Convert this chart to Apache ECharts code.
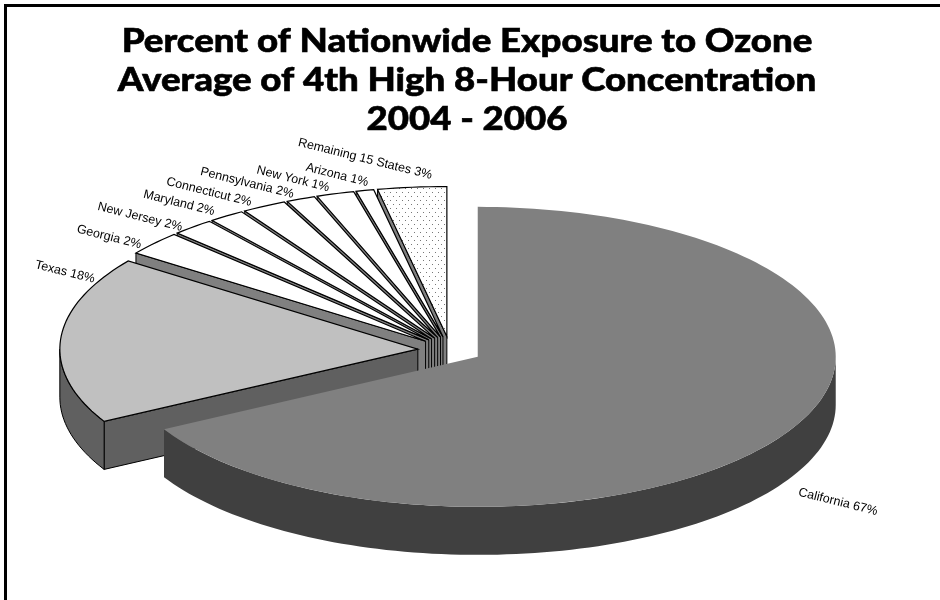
<!DOCTYPE html>
<html>
<head>
<meta charset="utf-8">
<style>
  html, body { margin: 0; padding: 0; background: #fff; }
  #chart { width: 940px; height: 600px; }
</style>
<script src="https://cdn.jsdelivr.net/npm/echarts@6/dist/echarts.min.js"></script>
</head>
<body>
<div id="chart"></div>
<script>
// data
var states = ['California', 'Texas', 'Georgia', 'New Jersey', 'Maryland', 'Connecticut', 'Pennsylvania', 'New York', 'Arizona', 'Remaining 15 States'];
var shares = [67, 18, 2.6, 1.9, 1.6, 2.0, 1.3, 1.7, 0.8, 3.1];
var printedShares = [67, 18, 2, 2, 2, 2, 2, 1, 1, 3];
var titleLines = ['Percent of Nationwide Exposure to Ozone', 'Average of 4th High 8-Hour Concentration', '2004 - 2006'];

// look of the slices
var topColors = ['#808080', '#c0c0c0', '#fff', '#fff', '#fff', '#fff', '#fff', '#fff', '#fff', 'dots'];
var wallColors = ['#404040', '#606060', '#808080', '#808080', '#808080', '#808080', '#808080', '#808080', '#808080', '#808080'];
var outlineColors = [null, '#000', '#000', '#000', '#000', '#000', '#000', '#000', '#000', '#000'];

// label anchors in pixels [x, y, rotation in degrees]
var labelSpots = [
  [838, 502, -14], [65, 272, -14], [109, 237, -14], [140, 217, -14], [179, 203, -14],
  [209, 192, -14], [247, 183, -14], [293, 179, -14], [337, 175, -14], [365, 159, -14]
];

var explode = 0.09;
var depth = 0.32; // pie thickness, in units of the y radius

// dot pattern for the last slice
var dots = document.createElement('canvas');
dots.width = 6;
dots.height = 8;
var dotsCtx = dots.getContext('2d');
dotsCtx.fillStyle = '#fff';
dotsCtx.fillRect(0, 0, 6, 8);
dotsCtx.fillStyle = '#777';
dotsCtx.fillRect(0, 0, 1, 1);
dotsCtx.fillRect(3, 4, 1, 1);

// running start angle of each slice, in degrees from 12 o'clock, clockwise
var total = shares.reduce(function (a, b) { return a + b; }, 0);
var starts = [];
var run = 0;
shares.forEach(function (v) {
  starts.push(run);
  run += v / total * 360;
});

function rim(cx, cy, deg) {
  var r = deg * Math.PI / 180;
  return [cx + Math.sin(r), cy + Math.cos(r)];
}

function arcPoints(cx, cy, from, to) {
  var pts = [];
  var n = Math.max(2, Math.ceil((to - from) / 1.5));
  for (var i = 0; i <= n; i++) {
    pts.push(rim(cx, cy, from + (to - from) * i / n));
  }
  return pts;
}

var chart = echarts.init(document.getElementById('chart'), null, { renderer: 'canvas' });

function renderSlice(params, api) {
  var i = params.dataIndex;
  var from = starts[i];
  var to = from + shares[i] / total * 360;
  var mid = (from + to) / 2 * Math.PI / 180;
  var cx = explode * Math.sin(mid);
  var cy = explode * Math.cos(mid);
  var toPx = function (p) { return api.coord(p); };
  var drop = function (p) { return api.coord([p[0], p[1] - depth]); };
  var stroke = outlineColors[i];
  var wallStyle = { fill: wallColors[i], stroke: stroke || wallColors[i], lineWidth: stroke ? 1 : 0 };
  var children = [];

  // radial wall on the start edge, seen when it turns toward the viewer
  if (from > 180) {
    var a = rim(cx, cy, from);
    children.push({
      type: 'polygon',
      shape: { points: [toPx([cx, cy]), toPx(a), drop(a), drop([cx, cy])] },
      style: wallStyle
    });
  }
  // radial wall on the end edge
  if (to < 180) {
    var b = rim(cx, cy, to);
    children.push({
      type: 'polygon',
      shape: { points: [toPx([cx, cy]), toPx(b), drop(b), drop([cx, cy])] },
      style: wallStyle
    });
  }
  // outer wall, front half only
  var wFrom = Math.max(from, 90);
  var wTo = Math.min(to, 270);
  if (wTo > wFrom) {
    var arc = arcPoints(cx, cy, wFrom, wTo);
    children.push({
      type: 'polygon',
      shape: { points: arc.map(toPx).concat(arc.slice().reverse().map(drop)) },
      style: wallStyle
    });
  }
  // top face
  var top = [[cx, cy]].concat(arcPoints(cx, cy, from, to));
  children.push({
    type: 'polygon',
    shape: { points: top.map(toPx) },
    style: {
      fill: topColors[i] === 'dots' ? { image: dots, repeat: 'repeat' } : topColors[i],
      stroke: stroke || topColors[i],
      lineWidth: stroke ? 1.2 : 0,
      lineJoin: 'miter'
    }
  });
  // printed label
  children.push({
    type: 'text',
    x: labelSpots[i][0],
    y: labelSpots[i][1],
    rotation: labelSpots[i][2] * Math.PI / 180,
    style: {
      text: states[i] + ' ' + printedShares[i] + '%',
      font: '12.5px "Liberation Sans", Arial, sans-serif',
      fill: '#000',
      align: 'center',
      verticalAlign: 'middle'
    }
  });
  return { type: 'group', children: children };
}

// painted back to front so nearer slices cover farther ones
var order = shares.map(function (v, i) { return i; }).reverse();

chart.setOption({
  animation: false,
  backgroundColor: '#fff',
  // unit circle of the pie mapped on to an ellipse of 358 x 150 px
  grid: { left: 92, top: 200, width: 716, height: 300, show: false },
  xAxis: { type: 'value', min: -1, max: 1, show: false },
  yAxis: { type: 'value', min: -1, max: 1, show: false },
  graphic: [
    // rule along the top and left edges only
    { type: 'rect', shape: { x: 4, y: 4, width: 936, height: 3 }, style: { fill: '#000' }, silent: true },
    { type: 'rect', shape: { x: 4, y: 4, width: 3, height: 596 }, style: { fill: '#000' }, silent: true }
  ].concat(titleLines.map(function (line, i) {
    return {
      type: 'text',
      x: 467,
      y: 41 + i * 39,
      scaleX: 1.11,
      originX: 0,
      silent: true,
      style: {
        text: line,
        font: '900 33px Lato, sans-serif',
        fill: '#000',
        stroke: '#000',
        lineWidth: 0.6,
        align: 'center',
        verticalAlign: 'middle'
      }
    };
  })),
  series: [{
    type: 'custom',
    coordinateSystem: 'cartesian2d',
    clip: false,
    silent: true,
    data: order.map(function (i) { return { value: [0, 0], name: states[i] }; }),
    renderItem: function (params, api) {
      return renderSlice({ dataIndex: order[params.dataIndex] }, api);
    }
  }]
});
</script>
</body>
</html>
